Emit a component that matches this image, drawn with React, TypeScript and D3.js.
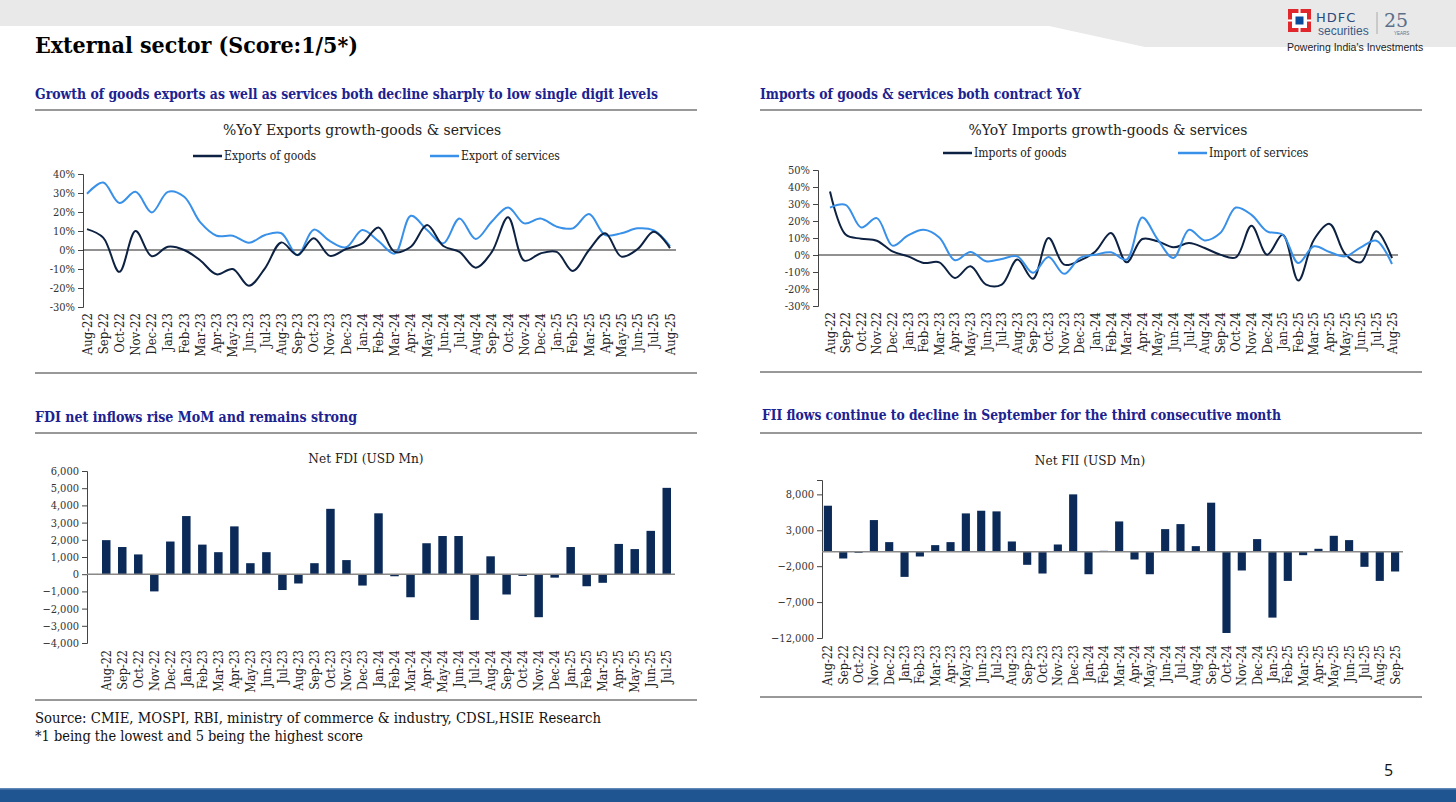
import React, { useEffect, useRef } from "react";
import * as d3 from "d3";

// month labels, Aug-22 .. Sep-25
const MONTHS = [
  "Aug-22", "Sep-22", "Oct-22", "Nov-22", "Dec-22", "Jan-23", "Feb-23", "Mar-23", "Apr-23", "May-23",
  "Jun-23", "Jul-23", "Aug-23", "Sep-23", "Oct-23", "Nov-23", "Dec-23", "Jan-24", "Feb-24", "Mar-24",
  "Apr-24", "May-24", "Jun-24", "Jul-24", "Aug-24", "Sep-24", "Oct-24", "Nov-24", "Dec-24", "Jan-25",
  "Feb-25", "Mar-25", "Apr-25", "May-25", "Jun-25", "Jul-25", "Aug-25", "Sep-25",
];
const tradeMonths = MONTHS.slice(0, 37); // Aug-22 .. Aug-25
const fdiMonths = MONTHS.slice(0, 36); // Aug-22 .. Jul-25
const fiiMonths = MONTHS.slice(0, 38); // Aug-22 .. Sep-25

// %YoY
const exportsGoods = [
  11, 6.5, -11.5, 10, -3.3, 1.7, 0, -5.5, -12.8, -10, -18.8, -9.5, 4, -2.6, 6.2, -3.1, 0.5, 3.5, 11.9,
  -1, 1.7, 13.1, 2.1, -1, -9.3, -1, 17.3, -5.6, -1.8, -1, -11, 0, 8.8, -3.5, 0.5, 9.6, 1,
];
const exportsServices = [
  29.6, 35.5, 24.7, 30.6, 19.8, 30.6, 28, 14.5, 7.5, 7.5, 3.8, 7.9, 8.8, -2.8, 10.7, 4.7, 1.4, 10.5,
  4.7, -1.9, 18, 10.5, 3.5, 16.6, 5.8, 15, 22.4, 14, 16.6, 12.3, 11.4, 18.9, 7.9, 8.8, 11.4, 10.3, 2.1,
];
const importsGoods = [
  37.3, 12, 9.6, 8.4, 2.1, -0.8, -4.7, -4.3, -13.5, -6.6, -17.4, -17.4, -2.7, -14, 10, -5.7, -3.3, 2.1,
  12.9, -4.3, 9.4, 8, 4.5, 7, 4.1, 0.2, -1.4, 17.2, 0.2, 11.9, -15, 9, 18.3, 0.6, -4.3, 13.9, -1.8,
];
const importsServices = [
  27.9, 29.5, 16.2, 21.7, 5.5, 11.5, 14.8, 10.3, -3.1, 1.8, -3.7, -2.3, -0.8, -10.5, -1.2, -11.1, -1.8,
  0.2, 1.6, -2.7, 22, 9, -1.8, 14.8, 8.6, 12.9, 27.9, 23.6, 13.9, 11.9, -4.7, 5.1, 1.8, -0.8, 4.5, 8.4, -5.3,
];

// USD Mn
const netFdi = [
  1980, 1580, 1150, -1000, 1900, 3380, 1720, 1280, 2780, 640, 1280, -920, -540, 640, 3800, 820, -660,
  3540, -120, -1340, 1800, 2220, 2220, -2660, 1040, -1180, -100, -2500, -200, 1580, -700, -500, 1760,
  1460, 2520, 5020,
];
const netFii = [
  6420, -930, -140, 4420, 1350, -3490, -650, 930, 1350, 5350, 5720, 5630, 1440, -1810, -3020, 1020, 8000,
  -3120, 140, 4230, -1070, -3120, 3160, 3860, 790, 6840, -11300, -2600, 1770, -9160, -4050, -470, 420,
  2230, 1630, -2090, -4050, -2740,
];

const fdiTicks = [-4000, -3000, -2000, -1000, 0, 1000, 2000, 3000, 4000, 5000, 6000];
const fiiTicks = [-12000, -7000, -2000, 3000, 8000];

const SERIF = "'DejaVu Serif Condensed', 'Liberation Serif', serif";
const DARK = "#0d2142";
const LIGHT = "#3890e8";
const BAR = "#0b2a58";
const HEAD = "#1c2290";

type Sel = d3.Selection<SVGSVGElement, unknown, null, undefined>;

const drawLineChart = (
  svg: Sel,
  o: {
    title: string;
    titleX: number;
    legend: { label: string; color: string; x: number }[];
    legendY: number;
    x0: number;
    x1: number;
    axisX: number;
    yDomain: [number, number];
    yRange: [number, number];
    zeroX1: number;
    series: number[][];
    colors: string[];
    labelTop: number;
  }
) => {
  const g = svg.append("g");
  const x = d3.scalePoint<string>().domain(tradeMonths).range([o.x0, o.x1]);
  const y = d3.scaleLinear().domain(o.yDomain).range(o.yRange);

  g.append("text")
    .attr("x", o.titleX)
    .attr("y", 135)
    .attr("text-anchor", "middle")
    .attr("font-family", SERIF)
    .attr("font-size", 15.5)
    .attr("fill", "#222")
    .text(o.title);

  o.legend.forEach((l) => {
    g.append("line")
      .attr("x1", l.x)
      .attr("x2", l.x + 29)
      .attr("y1", o.legendY)
      .attr("y2", o.legendY)
      .attr("stroke", l.color)
      .attr("stroke-width", 2.5);
    g.append("text")
      .attr("x", l.x + 31)
      .attr("y", o.legendY + 4)
      .attr("font-family", SERIF)
      .attr("font-size", 12)
      .attr("fill", "#222")
      .text(l.label);
  });

  const yAxis = d3
    .axisLeft(y)
    .ticks(8)
    .tickSize(5)
    .tickFormat((d) => `${d}%`);
  const ya = g.append("g").attr("transform", `translate(${o.axisX},0)`).call(yAxis);
  ya.select(".domain").attr("stroke", "#444");
  ya.selectAll("line").attr("stroke", "#444");
  ya.selectAll("text").attr("font-family", SERIF).attr("font-size", 11).attr("fill", "#333");

  // zero line
  g.append("line")
    .attr("x1", o.axisX)
    .attr("x2", o.zeroX1)
    .attr("y1", y(0))
    .attr("y2", y(0))
    .attr("stroke", "#222")
    .attr("stroke-width", 1);

  const line = d3
    .line<number>()
    .x((_, i) => x(tradeMonths[i]) as number)
    .y((d) => y(d))
    .curve(d3.curveCatmullRom.alpha(0.5));

  o.series.forEach((s, i) => {
    g.append("path")
      .attr("d", line(s))
      .attr("fill", "none")
      .attr("stroke", o.colors[i])
      .attr("stroke-width", 2);
  });

  tradeMonths.forEach((m) => {
    g.append("text")
      .attr("transform", `translate(${(x(m) as number) + 4.5},${o.labelTop}) rotate(-90)`)
      .attr("text-anchor", "end")
      .attr("font-family", SERIF)
      .attr("font-size", 13)
      .attr("fill", "#222")
      .text(m);
  });
};

const drawBarChart = (
  svg: Sel,
  o: {
    title: string;
    titleX: number;
    titleY: number;
    months: string[];
    values: number[];
    xRange: [number, number];
    axisX: number;
    yDomain: [number, number];
    yRange: [number, number];
    ticks: number[];
    labelTop: number;
  }
) => {
  const g = svg.append("g");
  const x = d3.scaleBand<string>().domain(o.months).range(o.xRange).paddingInner(0.47).paddingOuter(0.25);
  const y = d3.scaleLinear().domain(o.yDomain).range(o.yRange);

  g.append("text")
    .attr("x", o.titleX)
    .attr("y", o.titleY)
    .attr("text-anchor", "middle")
    .attr("font-family", SERIF)
    .attr("font-size", 13.5)
    .attr("fill", "#222")
    .text(o.title);

  const yAxis = d3
    .axisLeft(y)
    .tickValues(o.ticks)
    .tickSize(5)
    .tickFormat((d) => d3.format(",")(d as number));
  const ya = g.append("g").attr("transform", `translate(${o.axisX},0)`).call(yAxis);
  ya.select(".domain").attr("stroke", "#444");
  ya.selectAll("line").attr("stroke", "#444");
  ya.selectAll("text").attr("font-family", SERIF).attr("font-size", 11).attr("fill", "#333");

  g.selectAll(".bar")
    .data(o.values)
    .enter()
    .append("rect")
    .attr("x", (_, i) => x(o.months[i]) as number)
    .attr("width", x.bandwidth())
    .attr("y", (d) => Math.min(y(d), y(0)))
    .attr("height", (d) => Math.abs(y(d) - y(0)))
    .attr("fill", BAR);

  g.append("line")
    .attr("x1", o.axisX)
    .attr("x2", o.xRange[1])
    .attr("y1", y(0))
    .attr("y2", y(0))
    .attr("stroke", "#888")
    .attr("stroke-width", 1.5);

  o.months.forEach((m) => {
    g.append("text")
      .attr("transform", `translate(${(x(m) as number) + x.bandwidth() / 2 + 4.5},${o.labelTop}) rotate(-90)`)
      .attr("text-anchor", "end")
      .attr("font-family", SERIF)
      .attr("font-size", 12.5)
      .attr("fill", "#222")
      .text(m);
  });
};

export default function App() {
  const svgRef = useRef<SVGSVGElement | null>(null);

  useEffect(() => {
    if (!svgRef.current) return;
    const svg = d3.select(svgRef.current) as Sel;
    svg.selectAll("*").remove();

    // page background + header band
    svg.append("rect").attr("width", 1456).attr("height", 802).attr("fill", "#fff");
    svg
      .append("path")
      .attr("d", "M0,0 H1456 V47 H1145 L1049,26 H0 Z")
      .attr("fill", "#e9e9e9");
    svg.append("rect").attr("x", 0).attr("y", 788).attr("width", 1456).attr("height", 14).attr("fill", "#1f5591");
    svg.append("rect").attr("x", 0).attr("y", 788).attr("width", 1456).attr("height", 1.5).attr("fill", "#5f86b8");

    // logo
    const logo = svg.append("g");
    logo.append("rect").attr("x", 1288).attr("y", 9).attr("width", 23).attr("height", 23).attr("fill", "#e0282c");
    logo.append("rect").attr("x", 1292).attr("y", 13).attr("width", 15).attr("height", 15).attr("fill", "#fff");
    logo.append("rect").attr("x", 1298.5).attr("y", 9).attr("width", 2).attr("height", 23).attr("fill", "#fff");
    logo.append("rect").attr("x", 1288).attr("y", 19.5).attr("width", 23).attr("height", 2).attr("fill", "#fff");
    logo.append("rect").attr("x", 1295.5).attr("y", 16.5).attr("width", 8).attr("height", 8).attr("fill", "#0b4c9a");
    logo.append("text").attr("x", 1316).attr("y", 22).attr("font-family", "'DejaVu Sans', sans-serif")
      .attr("font-size", 13).attr("fill", "#2d4a7a").attr("letter-spacing", 1).text("HDFC");
    logo.append("text").attr("x", 1318).attr("y", 35).attr("font-family", "'Liberation Sans', sans-serif")
      .attr("font-size", 12).attr("fill", "#3a5a86").text("securities");
    logo.append("line").attr("x1", 1377).attr("x2", 1377).attr("y1", 12).attr("y2", 34).attr("stroke", "#aaa");
    logo.append("text").attr("x", 1384).attr("y", 27).attr("font-family", "'DejaVu Serif', serif")
      .attr("font-size", 19).attr("fill", "#5d6f88").text("25");
    logo.append("text").attr("x", 1394).attr("y", 35).attr("font-family", "'Liberation Sans', sans-serif")
      .attr("font-size", 4.5).attr("fill", "#5d6f88").text("YEARS");
    logo.append("text").attr("x", 1287).attr("y", 51).attr("font-family", "'Liberation Sans', sans-serif")
      .attr("font-size", 10.5).attr("fill", "#222").text("Powering India's Investments");

    // title
    svg.append("text").attr("x", 35).attr("y", 53).attr("font-family", SERIF).attr("font-weight", "bold")
      .attr("font-size", 23).attr("fill", "#000").attr("textLength", 323).attr("lengthAdjust", "spacingAndGlyphs")
      .text("External sector (Score:1/5*)");

    // section headings and rules
    const heads = [
      { t: "Growth of goods exports as well as services both decline sharply to low single digit levels", x: 35, y: 99, w: 623 },
      { t: "Imports of goods & services both contract YoY", x: 760, y: 99, w: 321 },
      { t: "FDI net inflows rise MoM and remains strong", x: 35, y: 422, w: 322 },
      { t: "FII flows continue to decline in September for the third consecutive month", x: 762, y: 420, w: 519 },
    ];
    heads.forEach((h) => {
      svg.append("text").attr("x", h.x).attr("y", h.y).attr("font-family", SERIF).attr("font-weight", "bold")
        .attr("font-size", 14).attr("fill", HEAD).attr("textLength", h.w).attr("lengthAdjust", "spacingAndGlyphs").text(h.t);
    });
    const rules = [
      [35, 697, 110], [760, 1422, 110], [35, 697, 373], [760, 1422, 372],
      [35, 697, 433], [760, 1422, 433], [35, 697, 700], [760, 1422, 697],
    ];
    rules.forEach(([a, b, yy]) => {
      svg.append("line").attr("x1", a).attr("x2", b).attr("y1", yy).attr("y2", yy)
        .attr("stroke", "#333").attr("stroke-width", 1);
    });

    drawLineChart(svg, {
      title: "%YoY Exports growth-goods & services",
      titleX: 362,
      legend: [
        { label: "Exports of goods", color: DARK, x: 193 },
        { label: "Export of services", color: LIGHT, x: 430 },
      ],
      legendY: 156,
      x0: 87,
      x1: 670,
      axisX: 83,
      yDomain: [-30, 40],
      yRange: [307, 174],
      zeroX1: 676,
      series: [exportsServices, exportsGoods],
      colors: [LIGHT, DARK],
      labelTop: 313,
    });

    drawLineChart(svg, {
      title: "%YoY Imports growth-goods & services",
      titleX: 1108,
      legend: [
        { label: "Imports of goods", color: DARK, x: 943 },
        { label: "Import of services", color: LIGHT, x: 1178 },
      ],
      legendY: 153,
      x0: 830,
      x1: 1392,
      axisX: 818,
      yDomain: [-30, 50],
      yRange: [306, 170],
      zeroX1: 1398,
      series: [importsGoods, importsServices],
      colors: [DARK, LIGHT],
      labelTop: 312,
    });

    drawBarChart(svg, {
      title: "Net FDI  (USD Mn)",
      titleX: 366,
      titleY: 463,
      months: fdiMonths,
      values: netFdi,
      xRange: [98, 675],
      axisX: 87,
      yDomain: [-4000, 6000],
      yRange: [643, 471],
      ticks: fdiTicks,
      labelTop: 650,
    });

    drawBarChart(svg, {
      title: "Net FII  (USD Mn)",
      titleX: 1090,
      titleY: 465,
      months: fiiMonths,
      values: netFii,
      xRange: [820, 1403],
      axisX: 822,
      yDomain: [-12000, 10000],
      yRange: [638, 480],
      ticks: fiiTicks,
      labelTop: 645,
    });

    // footnotes
    svg.append("text").attr("x", 35).attr("y", 723).attr("font-family", SERIF).attr("font-size", 15)
      .attr("fill", "#111").attr("textLength", 566).attr("lengthAdjust", "spacingAndGlyphs")
      .text("Source: CMIE, MOSPI, RBI, ministry of commerce & industry, CDSL,HSIE Research");
    svg.append("text").attr("x", 35).attr("y", 741).attr("font-family", SERIF).attr("font-size", 15)
      .attr("fill", "#111").attr("textLength", 328).attr("lengthAdjust", "spacingAndGlyphs")
      .text("*1 being the lowest and 5 being the highest score");
    svg.append("text").attr("x", 1384).attr("y", 776).attr("font-family", "'Open Sans', sans-serif").attr("font-size", 16)
      .attr("fill", "#111").text("5");
  }, []);

  return (
    <svg
      ref={svgRef}
      width={1456}
      height={802}
      style={{ position: "absolute", left: 0, top: 0, display: "block" }}
    />
  );
}
